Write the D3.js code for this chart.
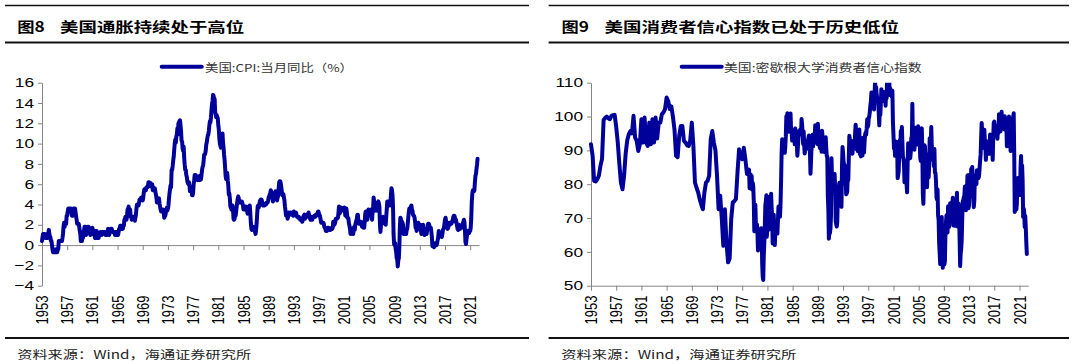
<!DOCTYPE html>
<html><head><meta charset="utf-8">
<script src="https://cdn.jsdelivr.net/npm/d3@7"></script>
<style>body{margin:0;background:#fff}svg{display:block}</style>
</head><body>
<svg id="c" width="1080" height="364"></svg>
<script>
// ---------- DATA ----------
const xTickYears = [1953,1957,1961,1965,1969,1973,1977,1981,1985,1989,1993,1997,2001,2005,2009,2013,2017,2021];
const cpiTicks = [-4,-2,0,2,4,6,8,10,12,14,16];
const sentTicks = [50,60,70,80,90,100,110];

// US CPI YoY (%), monthly from Jan 1953 to Mar 2022
const cpiStartYear = 1953;
const cpiMonthly = [
0.4,0.8,1.1,0.8,1.1,1.1,0.7,0.7,0.7,1.1,0.7,0.7,
1.1,1.5,1.1,0.8,0.8,0.4,0.4,0.0,-0.4,-0.7,-0.4,-0.7,
-0.7,-0.7,-0.7,-0.4,-0.7,-0.7,-0.4,-0.4,0.4,0.4,0.4,0.4,
0.4,0.4,0.4,0.7,1.1,1.8,2.2,1.8,2.1,2.1,2.1,2.9,
2.9,3.3,3.6,3.6,3.6,3.3,3.3,3.6,3.3,2.9,3.3,2.9,
3.6,3.2,3.6,3.6,3.2,2.8,2.5,2.1,2.1,2.1,2.1,1.8,
1.4,1.1,0.4,0.4,0.4,0.7,0.7,1.1,1.4,1.8,1.4,1.8,
1.0,1.4,1.4,1.8,1.8,1.8,1.4,1.4,1.0,1.4,1.4,1.4,
1.7,1.4,1.4,1.0,1.0,0.7,1.4,1.0,1.4,0.7,0.7,0.7,
0.7,1.0,1.0,1.3,1.3,1.3,1.0,1.3,1.3,1.3,1.3,1.3,
1.3,1.0,1.3,1.0,1.0,1.3,1.6,1.3,1.0,1.3,1.3,1.6,
1.6,1.6,1.3,1.3,1.3,1.3,1.3,1.0,1.3,1.0,1.3,1.0,
1.0,1.0,1.3,1.6,1.6,1.9,1.6,1.9,1.6,1.9,1.6,1.9,
1.9,2.5,2.5,2.8,2.8,2.5,2.8,3.5,3.5,3.8,3.5,3.5,
3.5,2.8,2.8,2.5,2.8,2.8,2.8,2.5,2.8,2.4,2.7,3.0,
3.6,4.0,4.0,3.9,3.9,4.2,4.5,4.4,4.4,4.7,4.7,4.7,
4.4,4.7,5.2,5.5,5.5,5.5,5.4,5.7,5.7,5.7,5.9,6.2,
6.2,6.1,5.8,6.1,6.0,6.0,6.0,5.4,5.7,5.6,5.6,5.6,
5.3,5.0,4.7,4.2,4.4,4.6,4.4,4.6,4.1,3.8,3.5,3.3,
3.3,3.5,3.5,3.5,3.2,2.7,2.9,2.9,3.2,3.4,3.7,3.4,
3.6,3.9,4.6,5.1,5.5,5.9,5.7,7.4,7.4,7.8,8.3,8.7,
9.4,10.0,10.4,10.1,10.7,10.9,11.5,10.9,12.0,12.1,12.2,12.3,
11.8,11.2,10.3,10.2,9.5,9.3,9.7,8.6,7.9,7.4,7.4,6.9,
6.7,6.3,6.1,6.0,6.2,5.9,5.3,5.7,5.5,5.5,4.9,4.9,
5.2,6.0,6.4,6.9,6.7,6.9,6.8,6.6,6.6,6.4,6.7,6.7,
6.8,6.4,6.6,6.5,6.9,7.4,7.7,7.8,8.3,8.9,8.9,9.0,
9.3,9.9,10.1,10.5,10.8,10.9,11.3,11.8,12.2,12.1,12.6,13.3,
13.9,14.2,14.8,14.7,14.4,14.4,13.1,12.9,12.6,12.8,12.6,12.5,
11.8,11.4,10.5,10.0,9.8,9.6,10.8,10.8,11.0,10.1,9.6,8.9,
8.4,7.6,6.8,6.5,6.7,7.1,6.4,5.9,5.0,5.1,4.6,3.8,
3.7,3.5,3.6,3.9,3.5,2.6,2.5,2.6,2.9,2.9,3.3,3.8,
4.2,4.6,4.8,4.6,4.2,4.2,4.2,4.3,4.3,4.3,4.1,3.9,
3.5,3.5,3.7,3.7,3.8,3.8,3.6,3.3,3.1,3.2,3.5,3.8,
3.9,3.1,2.2,1.6,1.5,1.8,1.6,1.6,1.8,1.5,1.3,1.1,
1.5,2.1,3.0,3.8,3.9,3.7,3.9,4.3,4.4,4.5,4.5,4.4,
4.0,3.9,3.9,3.9,3.9,4.0,4.1,4.0,4.2,4.2,4.2,4.4,
4.7,4.8,5.0,5.1,5.4,5.2,5.0,4.7,4.3,4.5,4.7,4.6,
5.2,5.3,5.2,4.7,4.4,4.7,4.8,5.6,6.2,6.3,6.3,6.1,
5.7,5.3,4.9,4.9,5.0,4.7,4.4,3.8,3.4,2.9,3.0,3.1,
2.6,2.8,3.2,3.2,3.0,3.1,3.2,3.1,3.0,3.2,3.0,2.9,
3.3,3.2,3.1,3.2,3.2,3.0,2.8,2.8,2.7,2.8,2.7,2.7,
2.5,2.5,2.5,2.4,2.3,2.5,2.8,2.9,3.0,2.6,2.7,2.7,
2.8,2.9,2.9,3.1,3.2,3.0,2.8,2.6,2.5,2.8,2.6,2.5,
2.7,2.7,2.8,2.9,2.9,2.8,3.0,2.9,3.0,3.0,3.3,3.3,
3.0,3.0,2.8,2.5,2.2,2.3,2.2,2.2,2.2,2.1,1.8,1.7,
1.6,1.4,1.4,1.4,1.7,1.7,1.7,1.6,1.5,1.5,1.5,1.6,
1.7,1.6,1.7,2.3,2.1,2.0,2.1,2.3,2.6,2.6,2.6,2.7,
2.7,3.2,3.8,3.1,3.2,3.7,3.7,3.4,3.5,3.4,3.4,3.4,
3.7,3.5,2.9,3.3,3.6,3.2,2.7,2.7,2.6,2.1,1.9,1.6,
1.1,1.1,1.5,1.6,1.2,1.1,1.5,1.8,1.5,2.0,2.2,2.4,
2.6,3.0,3.0,2.2,2.1,2.1,2.1,2.2,2.3,2.0,1.8,1.9,
1.9,1.7,1.7,2.3,3.1,3.3,3.0,2.7,2.5,3.2,3.5,3.3,
3.0,3.0,3.1,3.5,2.8,2.5,3.2,3.6,4.7,4.3,3.5,3.4,
4.0,3.6,3.4,3.5,4.2,4.3,4.1,3.8,2.1,1.3,2.0,2.5,
2.1,2.4,2.8,2.6,2.7,2.7,2.4,2.0,2.8,3.5,4.3,4.1,
4.3,4.0,4.0,3.9,4.2,5.0,5.6,5.4,4.9,3.7,1.1,0.1,
0.0,0.2,-0.4,-0.7,-1.3,-1.4,-2.1,-1.5,-1.3,-0.2,1.8,2.7,
2.6,2.1,2.3,2.2,2.0,1.1,1.2,1.1,1.1,1.2,1.1,1.5,
1.6,2.1,2.7,3.2,3.6,3.6,3.6,3.8,3.9,3.5,3.4,3.0,
2.9,2.9,2.7,2.3,1.7,1.7,1.4,1.7,2.0,2.2,1.8,1.7,
1.6,2.0,1.5,1.1,1.4,1.8,2.0,1.5,1.2,1.0,1.2,1.5,
1.6,1.1,1.5,2.0,2.1,2.1,2.0,1.7,1.7,1.7,1.3,0.8,
-0.1,0.0,-0.1,-0.2,0.0,0.1,0.2,0.2,0.0,0.2,0.5,0.7,
1.4,1.0,0.9,1.1,1.0,1.0,0.8,1.1,1.5,1.6,1.7,2.1,
2.5,2.7,2.4,2.2,1.9,1.6,1.7,1.9,2.2,2.0,2.2,2.1,
2.1,2.2,2.4,2.5,2.8,2.9,2.9,2.7,2.3,2.5,2.2,1.9,
1.6,1.5,1.9,2.0,1.8,1.6,1.8,1.7,1.7,1.8,2.1,2.3,
2.5,2.3,1.5,0.3,0.1,0.6,1.0,1.3,1.4,1.2,1.2,1.4,
1.4,1.7,2.6,4.2,5.0,5.4,5.4,5.3,5.4,6.2,6.8,7.0,
7.5,7.9,8.5
];

// Michigan consumer sentiment: quarterly readings 1953-1977
const sentQuarterlyStartYear = 1953;
const sentQuarterly = [
91.8,88.5,81.0,80.8, 81.5,82.5,85.4,87.5, 99.0,99.6,100.0,99.5, 99.2,100.2,100.4,100.5,
97.0,92.3,86.0,80.5, 78.5,82.5,89.0,93.0, 94.8,95.7,95.0,100.2, 93.8,92.8,89.8,91.8,
99.2,92.3,99.7,92.3, 91.3,98.2,91.8,99.2, 92.3,99.7,93.5,98.2, 98.2,100.7,101.2,102.2,
105.6,104.6,102.2,103.0, 100.0,96.2,88.4,88.0, 94.3,97.2,97.2,92.8, 92.3,91.5,91.3,93.0,
98.2,91.3,80.5,79.0, 77.6,75.6,74.0,72.6, 77.6,80.5,81.0,82.5, 93.3,95.7,92.3,90.0,
82.5,72.6,76.6,70.0, 61.8,72.6,62.8,56.9, 58.0,69.7,74.6,75.0, 75.6,83.5,90.3,88.0,
87.4,90.8,87.4,83.0
];
// Monthly from Jan 1978 to Mar 2022
const sentMonthlyStartYear = 1978;
const sentMonthly = [
83.7,84.3,78.8,81.6,82.9,80.0,82.4,78.4,80.4,79.3,75.0,66.1,
72.1,73.9,68.4,66.0,68.1,65.8,60.4,64.5,66.7,62.1,63.3,61.0,
67.0,66.9,56.5,52.7,51.7,58.7,62.3,67.3,73.7,75.0,76.7,64.5,
71.4,66.9,66.5,72.4,76.3,73.1,74.1,77.2,73.1,70.3,62.5,64.3,
71.0,66.5,62.0,65.5,67.5,65.7,65.4,65.4,69.3,73.4,72.1,71.9,
70.4,74.6,80.8,89.1,93.3,92.2,92.8,90.9,89.9,89.3,91.1,94.2,
100.1,97.4,101.0,96.1,98.1,95.5,96.6,99.1,100.9,96.3,95.7,92.9,
96.0,93.7,93.7,94.6,91.8,96.5,94.0,92.4,92.1,88.4,90.9,93.9,
95.6,95.9,95.1,96.2,94.8,99.3,97.7,94.9,91.9,95.6,91.4,89.1,
90.4,90.2,90.8,92.8,91.1,91.5,93.7,94.4,93.6,89.3,83.1,86.8,
90.8,91.6,94.6,91.2,94.8,94.7,93.7,97.4,97.3,94.1,93.0,91.9,
97.9,95.4,94.3,91.5,90.7,90.6,92.0,89.6,95.8,93.9,90.9,90.5,
93.0,89.5,91.3,93.9,90.6,88.3,88.2,76.4,72.8,63.9,66.0,65.5,
66.8,70.4,87.7,81.8,78.3,82.1,82.9,82.0,83.0,78.3,69.1,68.2,
67.5,68.8,76.0,77.2,79.2,80.4,76.6,76.1,75.6,73.3,85.3,91.0,
89.3,86.6,85.9,85.6,80.3,81.5,77.0,77.3,77.9,82.7,81.2,88.2,
94.3,93.2,91.5,92.6,92.8,91.2,89.0,91.7,91.5,92.7,91.6,95.1,
97.6,95.1,90.3,92.5,89.8,92.7,94.4,96.2,88.9,90.2,88.2,91.0,
89.3,88.5,93.7,92.7,89.4,92.4,94.7,95.3,94.7,96.5,99.2,96.9,
97.4,99.7,100.0,101.4,103.2,104.5,107.1,104.4,106.0,105.6,107.2,102.1,
106.6,110.4,106.5,108.7,106.5,105.6,105.2,104.4,100.9,97.4,102.7,100.5,
103.9,108.1,105.7,104.6,106.8,107.3,106.0,104.5,107.2,103.2,107.2,105.4,
112.0,111.3,107.1,109.2,110.7,106.4,108.3,107.3,106.8,105.8,107.6,98.4,
94.7,90.6,91.5,88.4,92.0,92.6,92.4,91.5,81.8,82.7,83.9,88.8,
93.0,90.7,95.7,93.0,96.9,92.4,88.1,87.6,86.1,80.6,84.2,86.7,
82.4,79.9,77.6,86.0,92.1,89.7,90.9,89.3,87.7,89.6,93.7,92.6,
103.8,94.4,95.8,94.2,90.2,95.6,96.7,95.9,94.2,91.7,92.8,97.1,
95.5,94.1,92.6,87.7,86.9,96.0,96.5,89.1,76.9,74.2,81.6,91.5,
91.2,86.7,88.9,87.4,79.1,84.9,84.7,82.0,85.4,93.6,92.1,91.7,
96.9,91.3,88.4,87.1,88.3,85.3,90.4,83.4,83.4,80.9,76.1,75.5,
78.4,70.8,69.5,62.6,59.8,56.4,61.2,63.0,70.3,57.6,55.3,60.1,
61.2,56.3,57.3,65.1,68.7,70.8,66.0,65.7,73.5,70.6,67.4,72.5,
74.4,73.6,73.6,72.2,73.6,76.0,67.8,68.9,68.2,67.7,71.6,74.5,
74.2,77.5,67.5,69.8,74.3,71.5,63.7,55.8,59.5,60.8,63.7,69.9,
75.0,75.3,76.2,76.4,79.3,73.2,72.3,74.3,78.3,82.6,82.7,72.9,
73.8,77.6,78.6,76.4,84.5,84.1,85.1,82.1,77.5,73.2,75.1,82.5,
81.2,81.6,80.0,84.1,81.9,82.5,81.8,82.5,84.6,86.9,88.8,93.6,
98.1,95.4,93.0,95.9,90.7,96.1,93.1,91.9,87.2,90.0,91.3,92.6,
92.0,91.7,91.0,89.0,94.7,93.5,90.0,89.8,91.2,87.2,93.8,98.2,
98.5,96.3,96.9,97.0,97.1,95.0,93.4,96.8,95.1,100.7,98.5,95.9,
95.7,99.7,101.4,98.8,98.0,98.2,97.9,96.2,100.1,98.6,97.5,98.3,
91.2,93.8,98.4,97.2,100.0,98.2,98.4,89.8,93.2,95.5,96.8,99.3,
99.8,101.0,89.1,71.8,72.3,78.1,72.5,74.1,80.4,81.8,76.9,80.7,
79.0,76.8,84.9,88.3,82.9,85.5,81.2,70.3,72.8,71.7,67.4,70.6,
67.2,62.8,59.4
];

// ---------- DRAW ----------
const SX = 1.33;
const LINE = "#00009a";
const AXC = "#868686";
const svg = d3.select("#c");
const FONT = "'Liberation Sans', Arial, sans-serif";
const CJK = "'Noto Sans CJK SC', sans-serif";

function stretchText(parent, x, y, s, size, anchor, extra) {
  const g = parent.append("g").attr("transform", `translate(${x},${y}) scale(${SX},1)` + (extra || ""));
  return g.append("text").attr("x", 0).attr("y", 0)
    .attr("font-family", FONT).attr("font-size", size)
    .attr("text-anchor", anchor).attr("dominant-baseline", "central")
    .attr("fill", "#000").text(s);
}
function fitText(x, y, s, size, w, opts) {
  return svg.append("text").attr("x", x).attr("y", y)
    .attr("font-family", opts.font).attr("font-size", size)
    .attr("font-weight", opts.weight || "normal")
    .attr("fill", opts.fill || "#000")
    .attr("dominant-baseline", "central")
    .attr("textLength", w).attr("lengthAdjust", "spacingAndGlyphs").text(s);
}

const cpiSeries = cpiMonthly.map((v, i) => ({t: cpiStartYear + i / 12, v}));
const sentSeries = sentQuarterly.map((v, i) => ({t: sentQuarterlyStartYear + i * 0.25, v}))
  .concat(sentMonthly.map((v, i) => ({t: sentMonthlyStartYear + i / 12, v})));

const panels = [
  {x0: 42, x1: 479, yDom: [-4, 16], ticks: cpiTicks, data: cpiSeries, axisAt: 0,
   rule: [5, 529], titleA: ["图8", 17.2, 27.5], titleB: ["美国通胀持续处于高位", 60.1, 184],
   leg: [161.7, 201.7, 205, 148, "美国:CPI:当月同比（%）"], src: [17.2, 234]},
  {x0: 591, x1: 1028.3, yDom: [50, 110], ticks: sentTicks, data: sentSeries, axisAt: 50,
   rule: [548.6, 1069], titleA: ["图9", 561.6, 27.4], titleB: ["美国消费者信心指数已处于历史低位", 604.6, 294.5],
   leg: [681.7, 721.7, 724, 197.7, "美国:密歇根大学消费者信心指数"], src: [561.3, 235]}
];

const yTop = 82.7, yBot = 285.7;
panels.forEach((p, pi) => {
  [5.5, 42.5, 338].forEach(yy => {
    svg.append("line").attr("x1", p.rule[0]).attr("x2", p.rule[1]).attr("y1", yy).attr("y2", yy)
      .attr("stroke", "#111").attr("stroke-width", yy === 5.5 ? 1.6 : 1.8);
  });
  fitText(p.titleA[1], 25.8, p.titleA[0], 14, p.titleA[2], {font: CJK, weight: "bold"});
  fitText(p.titleB[1], 25.8, p.titleB[0], 14, p.titleB[2], {font: CJK, weight: "bold"});
  fitText(p.src[0], 353.9, "资料来源：Wind，海通证券研究所", 11.5, p.src[1], {font: CJK, fill: "#222"});

  const x = d3.scaleLinear().domain([1953, 2022.4]).range([p.x0, p.x1]);
  const y = d3.scaleLinear().domain(p.yDom).range([yBot, yTop]);

  const ya = svg.append("g").attr("transform", `translate(${p.x0},0)`)
    .call(d3.axisLeft(y).tickValues(p.ticks).tickSize(4).tickSizeOuter(0).tickFormat(""));
  ya.selectAll("path,line").attr("stroke", AXC);
  p.ticks.forEach(t => stretchText(svg, p.x0 - 8, y(t), d3.format("d")(t), 13, "end"));

  const xa = svg.append("g").attr("transform", `translate(0,${y(p.axisAt)})`)
    .call(d3.axisBottom(x).tickValues(xTickYears).tickSize(5).tickSizeOuter(0).tickFormat(""));
  xa.selectAll("path,line").attr("stroke", AXC);
  xTickYears.forEach(yr => {
    const g = svg.append("g").attr("transform", `translate(${x(yr)},295.5) scale(${SX},1) rotate(-90)`);
    g.append("text").attr("x", 0).attr("y", 0).attr("dy", "0.35em")
      .attr("font-family", FONT).attr("font-size", 13).attr("text-anchor", "end")
      .attr("fill", "#000").text(String(yr));
  });

  const cid = "clip" + pi;
  svg.append("clipPath").attr("id", cid).append("rect")
    .attr("x", p.x0 - 5).attr("y", yTop).attr("width", p.x1 - p.x0 + 10).attr("height", yBot - yTop + 5);

  const line = d3.line().x(d => x(d.t)).y(d => y(d.v));
  svg.append("path").datum(p.data).attr("d", line)
    .attr("fill", "none").attr("stroke", LINE).attr("stroke-width", 4)
    .attr("stroke-linejoin", "round").attr("stroke-linecap", "round")
    .attr("clip-path", `url(#${cid})`);

  svg.append("line").attr("x1", p.leg[0]).attr("x2", p.leg[1]).attr("y1", 66.7).attr("y2", 66.7)
    .attr("stroke", LINE).attr("stroke-width", 4).attr("stroke-linecap", "round");
  fitText(p.leg[2], 66.7, p.leg[4], 11, p.leg[3], {font: CJK, fill: "#333"});
});
</script>
</body></html>
